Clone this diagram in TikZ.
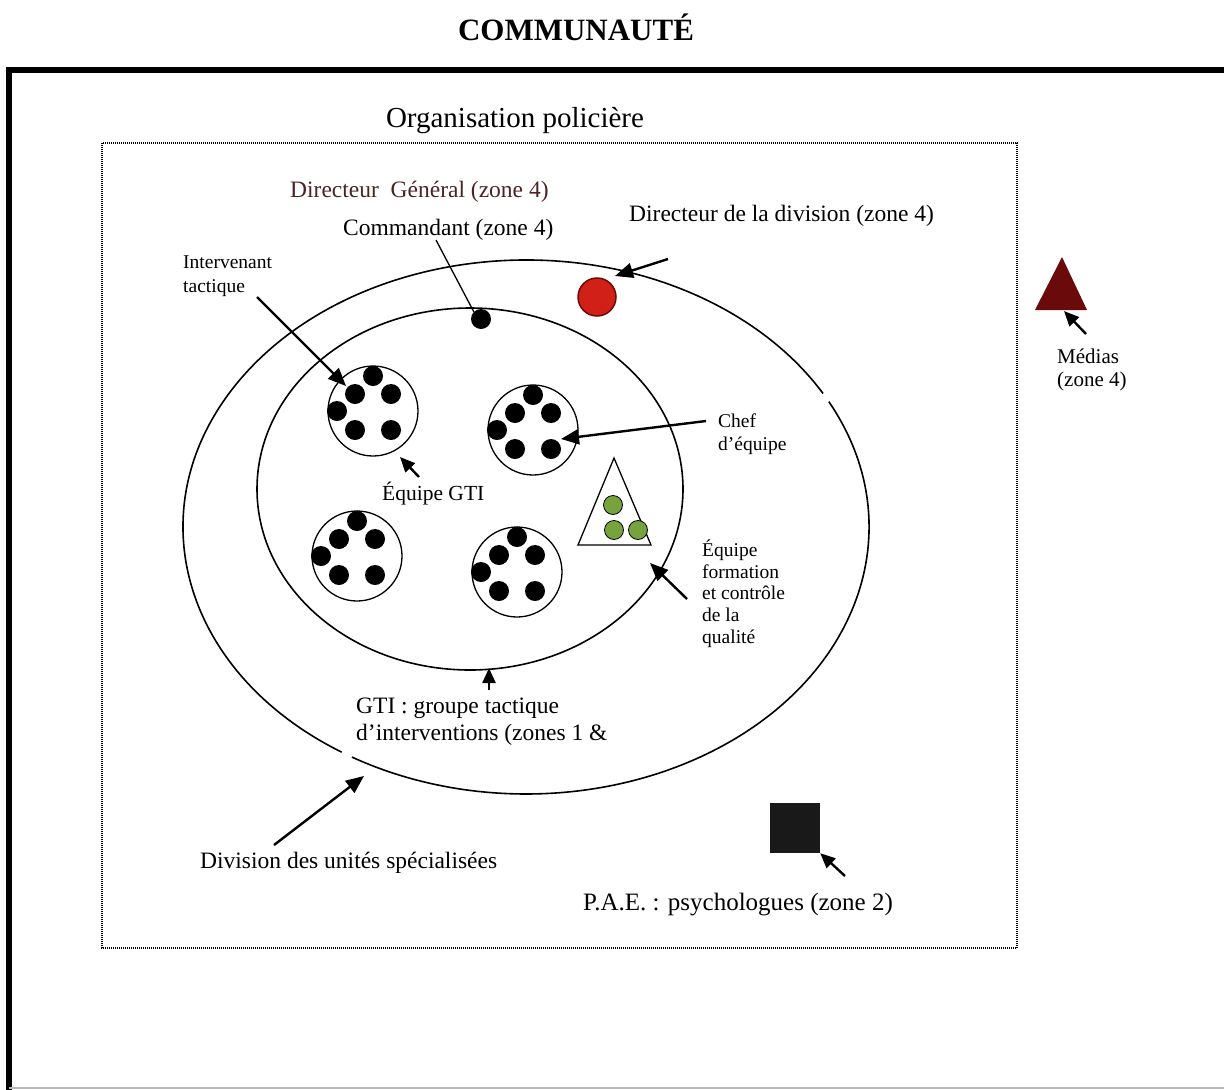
\documentclass[tikz,border=0pt]{standalone}
\usepackage{fontspec}
\setmainfont{Liberation Serif}
\usetikzlibrary{arrows.meta}
\definecolor{redfill}{RGB}{208,32,24}
\definecolor{rededge}{RGB}{110,10,10}
\definecolor{greenfill}{RGB}{118,163,60}
\definecolor{mediared}{RGB}{107,10,10}
\definecolor{dirtext}{RGB}{75,35,35}
\definecolor{framegray}{RGB}{185,185,185}
\begin{document}
\begin{tikzpicture}[x=1pt,y=-1pt,
  lbl/.style={inner sep=0pt, align=left, font=\fontsize{23.5}{27}\selectfont},
  sml/.style={inner sep=0pt, align=left, font=\fontsize{19.5}{23}\selectfont},
  arr/.style={line width=2.4pt, -{Triangle[length=18pt,width=15pt]}},
  sarr/.style={line width=2.4pt, -{Triangle[length=15pt,width=13pt]}},
  ell/.style={line width=1.6pt},
  team/.style={circle, draw, line width=1.3pt, minimum size=90pt, inner sep=0pt},
  dot/.style={circle, fill=black, minimum size=20pt, inner sep=0pt},
  gdot/.style={circle, fill=greenfill, draw=black, line width=0.8pt, minimum size=19pt, inner sep=0pt}]
\useasboundingbox (0,0) rectangle (1224,1090);
% frame
\draw[line width=6pt] (1224,70) -- (9,70) -- (9,1090);
\draw[framegray, line width=2pt] (9,1088) -- (1224,1088);
\draw[line width=1.1pt, dash pattern=on 1pt off 1pt] (102,143) rectangle (1017,948);
% titles
\node[inner sep=0pt, anchor=base, font=\bfseries\fontsize{31}{34}\selectfont] (comm) at (576,40) {COMMUNAUTÉ};
\node[inner sep=0pt, anchor=base, font=\fontsize{29}{32}\selectfont] (org) at (515,127) {Organisation policière};
% ellipses
\draw[ell] (526,527) ++(-28:343 and 267) arc[start angle=-28, end angle=120.5, x radius=343, y radius=267];
\draw[ell] (526,527) ++(122.5:343 and 267) arc[start angle=122.5, end angle=330, x radius=343, y radius=267];
\draw[ell] (470,489) ellipse[x radius=213, y radius=181];
% commandant and director
\node[dot] (cmd) at (481,319) {};
\node[circle, fill=redfill, draw=rededge, line width=1.5pt, minimum size=38pt, inner sep=0pt] (red) at (597,297) {};
% teams
\foreach \n/\cx/\cy in {t1/373/411, t2/533/430, t3/357/556, t4/517/572}{
  \node[team] (\n) at (\cx,\cy) {};
  \foreach \dx/\dy [count=\i] in {0/-35, -18/-17, 18/-17, -36/0, -18/19, 18/19}
    \node[dot] (\n d\i) at ([shift={(\dx,\dy)}]\n.center) {};
}
% training team triangle
\coordinate (trA) at (614,458);
\coordinate (trB) at (578,545);
\coordinate (trC) at (651,545);
\draw[line width=1.3pt, fill=white] (trA) -- (trB) -- (trC) -- cycle;
\node[gdot] (g1) at (613,505) {};
\node[gdot] (g2) at (614,530) {};
\node[gdot] (g3) at (638,530) {};
% medias triangle and PAE square
\coordinate (mA) at (1062,257);
\coordinate (mB) at (1035,310);
\coordinate (mC) at (1087,310);
\fill[mediared] (mA) -- (mB) -- (mC) -- cycle;
\node[fill=black!90, minimum size=50pt, inner sep=0pt] (pae) at (795,828) {};
% labels (multi-line nodes: base = last line)
\node[lbl, anchor=base west, text=dirtext] (dg) at (290,197) {Directeur\ \ Général (zone 4)};
\node[lbl, anchor=base west] (cmdt) at (343,235) {Commandant (zone 4)};
\node[lbl, anchor=base west] (dird) at (629,221) {Directeur de la division (zone 4)};
\node[sml, anchor=base west, font=\fontsize{19.5}{24}\selectfont] (interv) at (183,292) {Intervenant\\tactique};
\node[lbl, anchor=base west, font=\fontsize{21.5}{24}\selectfont] (eqgti) at (382,500) {Équipe GTI};
\node[sml, anchor=base west] (chef) at (718,450) {Chef\\d’équipe};
\node[sml, anchor=base west, font=\fontsize{19.5}{21.6}\selectfont] (form) at (702,643) {Équipe\\formation\\et contrôle\\de la\\qualité};
\node[lbl, anchor=base west] (gti) at (356,740) {GTI : groupe tactique\\d’interventions (zones 1 \&};
\node[lbl, anchor=base west] (div) at (200,868) {Division des unités spécialisées};
\node[lbl, anchor=base west, font=\fontsize{25}{28}\selectfont] (paet) at (583,910) {P.A.E. : psychologues (zone 2)};
\node[sml, anchor=base west, font=\fontsize{21}{23}\selectfont] (med) at (1057,386) {Médias\\(zone 4)};
% connectors
\coordinate (cmdline) at (436,240);
\draw[line width=1.3pt] (cmdline) -- (cmd.north west);
\coordinate (dirTail) at (668,259);
\coordinate (dirTip) at (615,276);
\draw[arr] (dirTail) -- (dirTip);
\coordinate (intTail) at (257,297);
\coordinate (intTip) at (346,386);
\draw[arr] (intTail) -- (intTip);
\coordinate (eqTail) at (419,477);
\coordinate (eqTip) at (400,457);
\draw[sarr] (eqTail) -- (eqTip);
\coordinate (chefTail) at (706,421);
\coordinate (chefTip) at (561,439);
\draw[arr] (chefTail) -- (chefTip);
\coordinate (formTail) at (687,599);
\coordinate (formTip) at (650,563);
\draw[arr] (formTail) -- (formTip);
\coordinate (gtiTail) at (489,690);
\coordinate (gtiTip) at (489,668);
\draw[sarr] (gtiTail) -- (gtiTip);
\coordinate (divTail) at (274,845);
\coordinate (divTip) at (364,776);
\draw[arr] (divTail) -- (divTip);
\coordinate (paeTail) at (845,876);
\draw[sarr] (paeTail) -- (pae.south east);
\coordinate (medTail) at (1086,334);
\coordinate (medTip) at (1064,311);
\draw[sarr] (medTail) -- (medTip);
\end{tikzpicture}
\end{document}
